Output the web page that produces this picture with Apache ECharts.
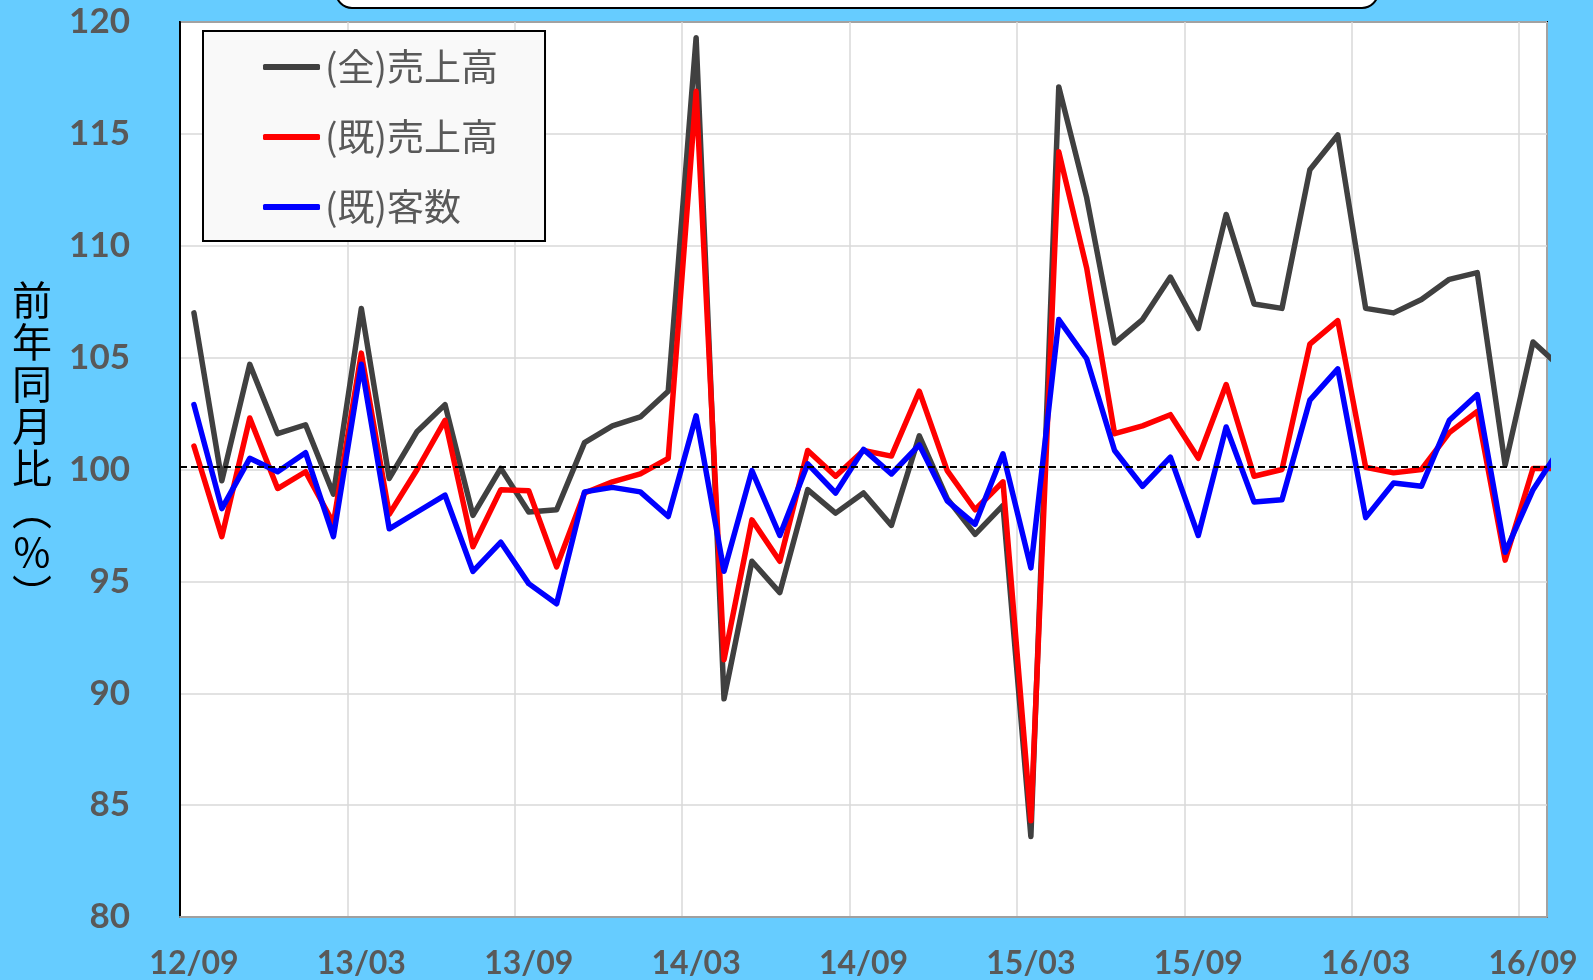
<!DOCTYPE html>
<html>
<head>
<meta charset="utf-8">
<script src="https://cdn.jsdelivr.net/npm/echarts@6/dist/echarts.min.js"></script>
<style>
html,body{margin:0;padding:0;background:#66CCFF;}
#chart{width:1593px;height:980px;}
</style>
</head>
<body>
<div id="chart"></div>
<script>
// Categories (year/month). The last one lies just past the visible axis range.
const categories = [
  '12/09','12/10','12/11','12/12','13/01','13/02','13/03','13/04','13/05','13/06','13/07','13/08',
  '13/09','13/10','13/11','13/12','14/01','14/02','14/03','14/04','14/05','14/06','14/07','14/08',
  '14/09','14/10','14/11','14/12','15/01','15/02','15/03','15/04','15/05','15/06','15/07','15/08',
  '15/09','15/10','15/11','15/12','16/01','16/02','16/03','16/04','16/05','16/06','16/07','16/08',
  '16/09','16/10'
];
const lastVisibleCategory = '16/09';

const seriesNames = ['(全)売上高', '(既)売上高', '(既)客数'];

// (全)売上高
const allSales = [
  107.0, 99.5, 104.7, 101.6, 102.0, 98.9, 107.2, 99.6, 101.7, 102.9, 97.95, 100.05,
  98.1, 98.2, 101.2, 101.95, 102.35, 103.5, 119.3, 89.75, 95.9, 94.5, 99.1, 98.05,
  98.95, 97.5, 101.5, 98.7, 97.1, 98.4, 83.6, 117.1, 112.15, 105.65, 106.7, 108.6,
  106.3, 111.4, 107.4, 107.2, 113.4, 114.95, 107.2, 107.0, 107.6, 108.5, 108.8, 100.2,
  105.7, 104.55
];
// (既)売上高
const existingSales = [
  101.05, 97.0, 102.3, 99.15, 99.9, 97.6, 105.2, 98.0, 100.0, 102.2, 96.55, 99.1,
  99.05, 95.65, 98.95, 99.45, 99.8, 100.5, 116.9, 91.5, 97.75, 95.9, 100.85, 99.7,
  100.85, 100.6, 103.5, 99.95, 98.2, 99.45, 84.3, 114.2, 109.0, 101.6, 101.95, 102.45,
  100.5, 103.8, 99.7, 100.0, 105.6, 106.65, 100.1, 99.85, 100.0, 101.65, 102.6, 95.95,
  100.05, 100.05
];
// (既)客数
const existingCustomers = [
  102.9, 98.25, 100.5, 99.9, 100.75, 97.0, 104.7, 97.35, 98.1, 98.85, 95.45, 96.75,
  94.9, 94.0, 99.0, 99.2, 99.0, 97.9, 102.4, 95.45, 99.95, 97.05, 100.25, 98.95,
  100.9, 99.8, 101.1, 98.6, 97.55, 100.7, 95.6, 106.7, 104.95, 100.85, 99.25, 100.55,
  97.05, 101.9, 98.55, 98.65, 103.1, 104.5, 97.85, 99.4, 99.25, 102.2, 103.35, 96.3,
  99.1, 101.0
];

const baselineValue = 100.13;
const yMin = 80, yMax = 120, yStep = 5;
const yAxisTitle = ['前','年','同','月','比','︵','%','︶'];

const colors = ['#404040', '#FF0000', '#0000FF'];
const seriesData = [allSales, existingSales, existingCustomers];

const chart = echarts.init(document.getElementById('chart'), null, {renderer: 'canvas'});

const series = seriesData.map((d, i) => ({
  name: seriesNames[i],
  type: 'line',
  data: d,
  symbol: 'none',
  clip: true,
  lineStyle: {color: colors[i], width: 5.5, join: 'round', cap: 'round'},
  itemStyle: {color: colors[i]},
  z: 3 + i
}));
series[2].markLine = {
  silent: true,
  symbol: 'none',
  label: {show: false},
  lineStyle: {color: '#000', type: [7, 4], width: 2.2},
  data: [{yAxis: baselineValue}],
  z: 10
};

chart.setOption({
  animation: false,
  backgroundColor: '#66CCFF',
  grid: {
    left: 180, right: 46, top: 22, bottom: 59,
    show: true, backgroundColor: '#ffffff', borderColor: '#000', borderWidth: 2
  },
  legend: {
    orient: 'vertical',
    left: 203, top: 31,
    data: seriesNames,
    icon: 'roundRect',
    itemWidth: 57, itemHeight: 6,
    itemGap: 30,
    padding: [16, 47, 14, 60],
    backgroundColor: '#f9f9f9',
    borderColor: '#000', borderWidth: 2,
    textStyle: {fontSize: 37, lineHeight: 40, color: '#595959', fontFamily: 'Noto Sans CJK JP'}
  },
  xAxis: {
    type: 'category',
    data: categories,
    max: lastVisibleCategory,
    boundaryGap: true,
    axisLine: {lineStyle: {color: '#a0a0a0', width: 2}},
    axisTick: {show: false},
    axisLabel: {
      interval: 5, margin: 31, fontSize: 32, lineHeight: 32, fontWeight: 'bold',
      color: '#595959', fontFamily: 'Lato'
    },
    splitLine: {show: true, interval: 5, lineStyle: {color: '#d9d9d9', width: 1.5}}
  },
  yAxis: {
    type: 'value',
    min: yMin, max: yMax, interval: yStep,
    axisLine: {show: true, lineStyle: {color: '#000', width: 2}},
    axisTick: {show: false},
    axisLabel: {margin: 50, fontSize: 35, fontWeight: 'bold', color: '#595959', fontFamily: 'Lato'},
    splitLine: {lineStyle: {color: '#d9d9d9', width: 1.5}}
  },
  graphic: [
    {
      type: 'rect', left: 335, top: -40, z: 100,
      shape: {width: 1042, height: 47, r: 16},
      style: {fill: '#ffffff', stroke: '#000', lineWidth: 2}
    },
    {
      type: 'text', x: 32, y: 279, z: 100,
      style: {
        text: yAxisTitle.join('\n'),
        font: '40px "Noto Sans CJK JP"',
        lineHeight: 42,
        fill: '#000',
        align: 'center',
        verticalAlign: 'top'
      }
    }
  ],
  series: series
});
</script>
</body>
</html>
